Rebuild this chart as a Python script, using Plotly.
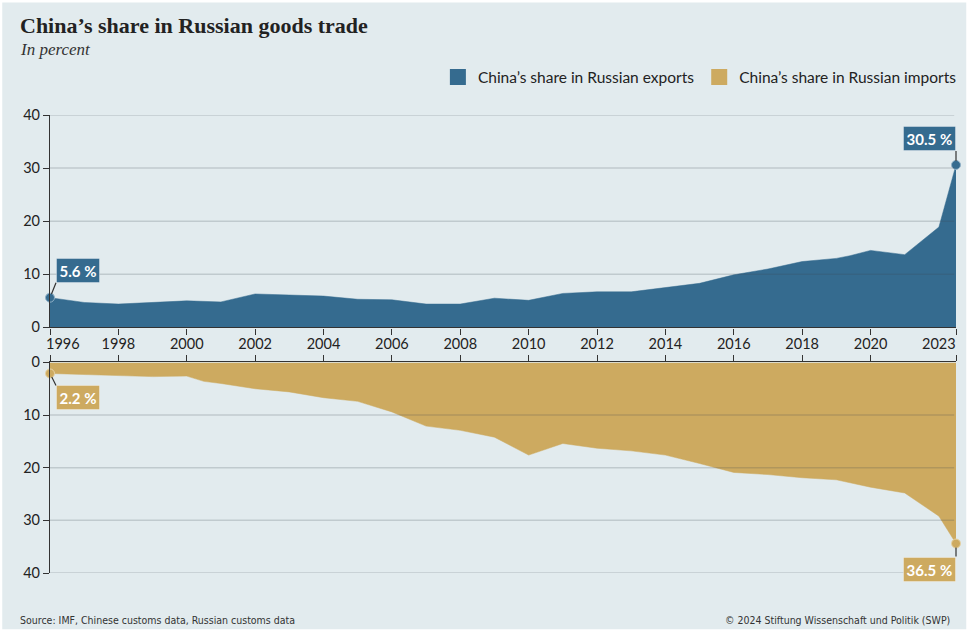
import plotly.graph_objects as go

# ---------------- data ----------------
exp_years = [1996, 1997, 1998, 1999, 2000, 2001, 2002, 2003, 2004, 2005, 2006, 2007,
             2008, 2009, 2010, 2011, 2012, 2013, 2014, 2015, 2016, 2017, 2018, 2019,
             2019.4, 2020, 2021, 2022, 2022.5]
exp_share = [5.6, 4.7, 4.4, 4.7, 5.0, 4.8, 6.3, 6.1, 5.9, 5.3, 5.2, 4.4,
             4.4, 5.5, 5.1, 6.4, 6.7, 6.7, 7.5, 8.3, 9.9, 11.0, 12.4, 13.0,
             13.5, 14.5, 13.7, 18.9, 30.6]

imp_years = [1996, 1997, 1998, 1999, 2000, 2000.5, 2001, 2002, 2003, 2004, 2005, 2006,
             2007, 2008, 2009, 2010, 2011, 2012, 2013, 2014, 2015, 2016, 2017, 2018,
             2019, 2020, 2021, 2021.7, 2022, 2022.5]
imp_share = [2.1, 2.3, 2.5, 2.7, 2.6, 3.6, 4.0, 5.0, 5.6, 6.7, 7.4, 9.4,
             12.1, 12.9, 14.2, 17.6, 15.4, 16.3, 16.8, 17.6, 19.2, 20.9, 21.3, 21.9,
             22.3, 23.7, 24.8, 27.8, 29.2, 34.4]

tick_years = [1996, 1998, 2000, 2002, 2004, 2006, 2008, 2010, 2012, 2014, 2016, 2018, 2020, 2022.5]
tick_labels = ["1996", "1998", "2000", "2002", "2004", "2006", "2008", "2010", "2012",
               "2014", "2016", "2018", "2020", "2023"]
y_ticks = [0, 10, 20, 30, 40]

exp_first_label = "5.6\u202f%"
exp_last_label = "30.5\u202f%"
imp_first_label = "2.2\u202f%"
imp_last_label = "36.5\u202f%"

title = "China\u2019s share in Russian goods trade"
subtitle = "In percent"
name_exp = "China\u2019s share in Russian exports"
name_imp = "China\u2019s share in Russian imports"
source = "Source: IMF, Chinese customs data, Russian customs data"
credit = "\u00a9 2024 Stiftung Wissenschaft und Politik (SWP)"

# ---------------- style ----------------
BLUE = "#356b8f"
GOLD = "#cdaa60"
BG = "#e2ebee"
INK = "#222222"
SANS = "Lato, 'Open Sans', sans-serif"
NARROW = "'Liberation Sans Narrow', 'DejaVu Sans Condensed', sans-serif"
TICK_SIZE = 14.5

fig = go.Figure()

fig.add_trace(go.Scatter(x=exp_years, y=exp_share, mode="lines", fill="tozeroy",
                         fillcolor=BLUE, line=dict(color=BLUE, width=0.5),
                         xaxis="x", yaxis="y", showlegend=False, hoverinfo="skip"))
fig.add_trace(go.Scatter(x=imp_years, y=imp_share, mode="lines", fill="tozeroy",
                         fillcolor=GOLD, line=dict(color=GOLD, width=0.5),
                         xaxis="x2", yaxis="y2", showlegend=False, hoverinfo="skip"))

# end-point dots
fig.add_trace(go.Scatter(x=[exp_years[0], exp_years[-1]], y=[exp_share[0], exp_share[-1]],
                         mode="markers", marker=dict(color=BLUE, size=9, line=dict(color="#8fb0c6", width=1)),
                         xaxis="x", yaxis="y", showlegend=False, cliponaxis=False, hoverinfo="skip"))
fig.add_trace(go.Scatter(x=[imp_years[0], imp_years[-1]], y=[imp_share[0], imp_share[-1]],
                         mode="markers", marker=dict(color=GOLD, size=9, line=dict(color="#e6d3a6", width=1)),
                         xaxis="x2", yaxis="y2", showlegend=False, cliponaxis=False, hoverinfo="skip"))

# legend entries
fig.add_trace(go.Scatter(x=[None], y=[None], mode="markers", name=name_exp,
                         marker=dict(symbol="square", size=17, color=BLUE), xaxis="x", yaxis="y"))
fig.add_trace(go.Scatter(x=[None], y=[None], mode="markers", name=name_imp,
                         marker=dict(symbol="square", size=17, color=GOLD), xaxis="x", yaxis="y"))

axis_common = dict(showline=True, linecolor="#333333", linewidth=1.2, ticks="outside",
                   ticklen=6, tickcolor="#333333", tickwidth=1.2, showgrid=False, zeroline=False,
                   tickfont=dict(family=SANS, size=TICK_SIZE, color=INK))

# inner tick labels drawn by the axis; the two end labels are placed as annotations (shifted inward)
inner_text = [""] + tick_labels[1:-1] + [""]

fig.update_layout(
    width=974, height=632,
    paper_bgcolor="white", plot_bgcolor="rgba(0,0,0,0)",
    margin=dict(l=50, r=13.3, t=114.5, b=59.3),
    xaxis=dict(domain=[0, 1], range=[1996, 2022.5], anchor="y", side="bottom",
               tickmode="array", tickvals=tick_years, ticktext=inner_text, ticklabelstandoff=-3,
               **axis_common),
    yaxis=dict(domain=[0.5362, 1], range=[0, 40], anchor="x",
               tickmode="array", tickvals=y_ticks, **axis_common),
    xaxis2=dict(domain=[0, 1], range=[1996, 2022.5], anchor="y2", side="top",
                tickmode="array", tickvals=tick_years, showticklabels=False, **axis_common),
    yaxis2=dict(domain=[0, 0.4598], range=[40, 0], anchor="x2",
                tickmode="array", tickvals=y_ticks, **axis_common),
    legend=dict(orientation="h", x=1.0065, xanchor="right", y=1.0818, yanchor="middle",
                bgcolor="rgba(0,0,0,0)", font=dict(family=SANS, size=15.5, color=INK),
                itemwidth=30, traceorder="normal"),
    showlegend=True,
)

shapes = [dict(type="rect", xref="paper", yref="paper",
               x0=(2 - 50) / 910.7, x1=(971 - 50) / 910.7,
               y0=(572.7 - 629) / 458.2, y1=(572.7 - 2) / 458.2,
               fillcolor=BG, line=dict(width=0), layer="below")]
for v in y_ticks[1:]:
    for yr in ("y", "y2"):
        shapes.append(dict(type="line", xref="x domain", yref=yr, x0=0, x1=0.998, y0=v, y1=v,
                           line=dict(color="rgba(60,70,80,0.2)", width=1.5), layer="above"))
fig.update_layout(shapes=shapes)

def label(x, y, text, color, xref, yref, ax, ay, xanchor, yanchor):
    return dict(x=x, y=y, xref=xref, yref=yref, text="<b>" + text + "</b>", showarrow=True,
                arrowhead=0, arrowwidth=1.2, arrowcolor="#333333", ax=ax, ay=ay,
                xanchor=xanchor, yanchor=yanchor, bgcolor=color, borderpad=2.5,
                bordercolor="rgba(255,255,255,0.35)", borderwidth=1,
                font=dict(family=SANS, size=15, color="white"), standoff=4)

annotations = [
    label(exp_years[0], exp_share[0], exp_first_label, BLUE, "x", "y", 6, -15, "left", "bottom"),
    label(exp_years[-1], exp_share[-1], exp_last_label, BLUE, "x", "y", 0, -14, "right", "bottom"),
    label(imp_years[0], imp_share[0], imp_first_label, GOLD, "x2", "y2", 6, 12, "left", "top"),
    label(imp_years[-1], imp_share[-1], imp_last_label, GOLD, "x2", "y2", 0, 13, "right", "top"),
    # end tick labels
    dict(x=tick_years[0], y=(572.7 - 343) / 458.2, xref="x", yref="paper", text=tick_labels[0],
         showarrow=False, xanchor="left", yanchor="middle", xshift=-6,
         font=dict(family=SANS, size=TICK_SIZE, color=INK)),
    dict(x=tick_years[-1], y=(572.7 - 343) / 458.2, xref="x", yref="paper", text=tick_labels[-1],
         showarrow=False, xanchor="right", yanchor="middle", xshift=2,
         font=dict(family=SANS, size=TICK_SIZE, color=INK)),
    dict(x=(18 - 50) / 910.7, y=(572.7 - 25) / 458.2, xref="paper", yref="paper",
         text="<b>" + title + "</b>", showarrow=False, xanchor="left", yanchor="middle",
         font=dict(family="'Liberation Serif', serif", size=22, color=INK)),
    dict(x=(18 - 50) / 910.7, y=(572.7 - 49) / 458.2, xref="paper", yref="paper",
         text="<i>" + subtitle + "</i>", showarrow=False, xanchor="left", yanchor="middle",
         font=dict(family="'Liberation Serif', serif", size=17, color="#333333")),
    dict(x=(18 - 50) / 910.7, y=(572.7 - 620) / 458.2, xref="paper", yref="paper",
         text=source, showarrow=False, xanchor="left", yanchor="middle",
         font=dict(family=NARROW, size=10.5, color="#333333")),
    dict(x=(957 - 50) / 910.7, y=(572.7 - 620) / 458.2, xref="paper", yref="paper",
         text=credit, showarrow=False, xanchor="right", yanchor="middle",
         font=dict(family=NARROW, size=10.5, color="#333333")),
]
fig.update_layout(annotations=annotations)

fig.write_html("out.html", config={"displayModeBar": False},
               post_script="document.body.style.margin='0';document.body.style.padding='0';document.body.style.overflow='hidden';")
